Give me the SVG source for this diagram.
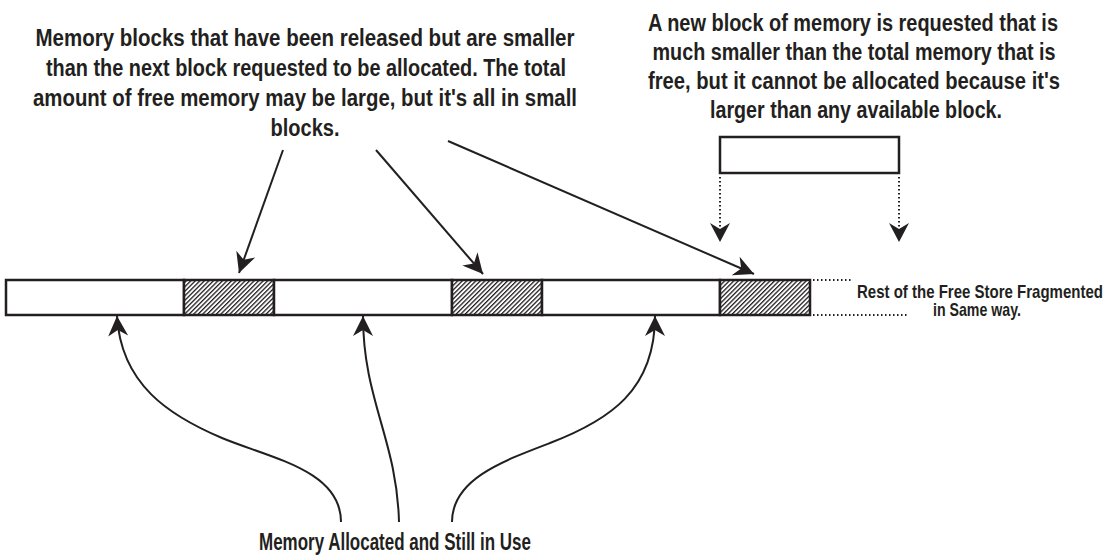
<svg xmlns="http://www.w3.org/2000/svg" width="1114" height="557" viewBox="0 0 1114 557">
  <style>
    .lbl { font-family: "Liberation Sans", Arial, sans-serif; font-size: 23.5px; font-weight: bold; fill: #231f20; text-anchor: middle; }
    .sm { font-family: "Liberation Sans", Arial, sans-serif; font-size: 17.5px; font-weight: bold; fill: #231f20; }
    .blk { fill: #ffffff; stroke: #231f20; stroke-width: 2.5; }
    .free { fill: url(#hatch); stroke: #231f20; stroke-width: 2.5; }
    .arrow { fill: none; stroke: #231f20; stroke-width: 2; marker-end: url(#head); }
    .dot { fill: none; stroke: #231f20; stroke-width: 2; stroke-dasharray: 1.5 2.5; }
  </style>
  <defs>
    <pattern id="hatch" patternUnits="userSpaceOnUse" width="3.2" height="10" patternTransform="rotate(45)">
      <rect x="0" y="0" width="3.2" height="10" fill="#ffffff"/>
      <rect x="0" y="0" width="1.3" height="10" fill="#231f20"/>
    </pattern>
    <marker id="head" markerUnits="userSpaceOnUse" viewBox="-21 -11 22 22" refX="0" refY="0" markerWidth="22" markerHeight="22" orient="auto">
      <path d="M0,0 L-20,-10 L-14,0 L-20,10 Z" fill="#231f20"/>
    </marker>
  </defs>

  <g id="memory-bar">
    <rect class="blk" x="6" y="280" width="178" height="35"/>
    <rect class="free" x="184" y="280" width="90" height="35"/>
    <rect class="blk" x="274" y="280" width="178" height="35"/>
    <rect class="free" x="452" y="280" width="90" height="35"/>
    <rect class="blk" x="542" y="280" width="178" height="35"/>
    <rect class="free" x="720" y="280" width="90" height="35"/>
  </g>

  <g id="requested-block">
    <rect class="blk" x="720" y="137" width="179" height="36"/>
  </g>

  <g id="label-released" transform="scale(0.8,1)">
    <text class="lbl" x="381.25" y="46" textLength="673.75" lengthAdjust="spacingAndGlyphs">Memory blocks that have been released but are smaller</text>
    <text class="lbl" x="382.5" y="76" textLength="650" lengthAdjust="spacingAndGlyphs">than the next block requested to be allocated. The total</text>
    <text class="lbl" x="381.25" y="106" textLength="680" lengthAdjust="spacingAndGlyphs">amount of free memory may be large, but it's all in small</text>
    <text class="lbl" x="381.25" y="136" textLength="86.25" lengthAdjust="spacingAndGlyphs">blocks.</text>
  </g>

  <g id="label-request" transform="scale(0.8,1)">
    <text class="lbl" x="1066.25" y="31" textLength="512.5" lengthAdjust="spacingAndGlyphs">A new block of memory is requested that is</text>
    <text class="lbl" x="1067.5" y="60" textLength="503.75" lengthAdjust="spacingAndGlyphs">much smaller than the total memory that is</text>
    <text class="lbl" x="1067.5" y="89" textLength="515" lengthAdjust="spacingAndGlyphs">free, but it cannot be allocated because it's</text>
    <text class="lbl" x="1070" y="118" textLength="365" lengthAdjust="spacingAndGlyphs">larger than any available block.</text>
  </g>

  <g id="label-rest" transform="scale(0.8,1)">
    <text class="sm" x="1071.25" y="298" textLength="307.5" lengthAdjust="spacingAndGlyphs">Rest of the Free Store Fragmented</text>
    <text class="sm" x="1166.25" y="316" textLength="110" lengthAdjust="spacingAndGlyphs">in Same way.</text>
  </g>

  <g id="label-inuse" transform="scale(0.8,1)">
    <text class="lbl" x="493.75" y="550" textLength="340" lengthAdjust="spacingAndGlyphs">Memory Allocated and Still in Use</text>
  </g>

  <g id="connectors">
    <line class="arrow" x1="283" y1="150" x2="239" y2="273"/>
    <line class="arrow" x1="376" y1="150" x2="483" y2="274"/>
    <line class="arrow" x1="448" y1="141" x2="754" y2="274"/>
    <path class="arrow" d="M341,522 C341,470 270,458 222,438 C170,416 121,385 117,316"/>
    <path class="arrow" d="M399,522 C397,440 363,400 363,316"/>
    <path class="arrow" d="M452,522 C452,480 500,462 550,443 C610,420 655,390 655,316"/>
    <line class="dot" x1="720" y1="177" x2="720" y2="228"/>
    <line class="dot" x1="899" y1="177" x2="899" y2="228"/>
    <path d="M720,242 L710,223 L720,229 L730,223 Z" fill="#231f20"/>
    <path d="M899,242 L889,223 L899,229 L909,223 Z" fill="#231f20"/>
    <line class="dot" x1="813" y1="280" x2="852" y2="280"/>
    <line class="dot" x1="813" y1="315" x2="908" y2="315"/>
  </g>
</svg>
